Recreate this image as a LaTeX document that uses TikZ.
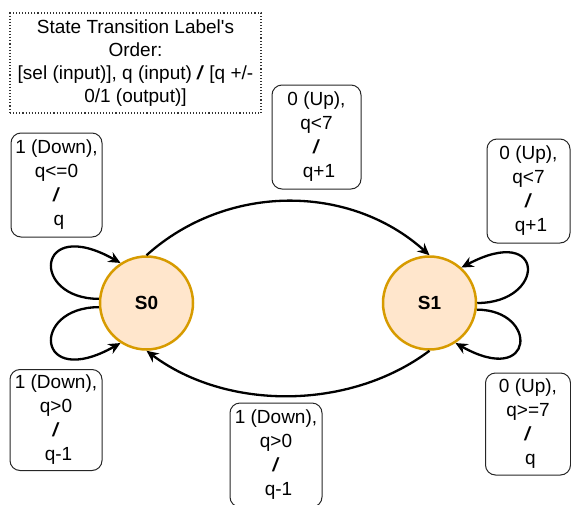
\documentclass[tikz,border=0pt]{standalone}
\usepackage{fontspec}
\setmainfont{Liberation Sans}
\usetikzlibrary{arrows.meta}
\definecolor{statefill}{HTML}{FFE6CC}
\definecolor{stateedge}{HTML}{D79B00}
\newcommand{\bislash}{\textbf{\textit{/}}}
\begin{document}
\begin{tikzpicture}[x=1pt,y=-1pt,
  state/.style={circle,draw=stateedge,fill=statefill,line width=2.5pt,minimum size=93pt,inner sep=0pt,font=\fontsize{19}{23}\selectfont\bfseries},
  lbl/.style={draw=black!85,rounded corners=10pt,line width=1pt,align=center,inner sep=0pt,font=\fontsize{19}{24}\selectfont},
  note/.style={draw=black!80,dotted,line width=1.1pt,align=center,inner sep=0pt,font=\fontsize{19}{23}\selectfont},
  tr/.style={line width=2.3pt,-{Stealth[length=12pt,width=11pt,inset=4pt]}}
]
\useasboundingbox (0,0) rectangle (571,504);

\node[note,minimum width=251pt,minimum height=100pt] (note) at (135.5,63)
  {State Transition Label\textquotesingle s\\Order:\\{}[sel (input)], q (input) \bislash{} [q +/-\\0/1 (output)]};

\node[state] (S0) at (146.5,303) {S0};
\node[state] (S1) at (429.5,303) {S1};

\node[lbl,minimum width=91pt,minimum height=104pt] (l1) at (56.5,185) {1 (Down),\\q<=0\\\bislash\\\hspace*{5pt}q};
\node[lbl,minimum width=89pt,minimum height=104pt] (l2) at (316.5,137) {0 (Up),\\q<7\\\bislash\\\hspace*{5pt}q+1};
\node[lbl,minimum width=83pt,minimum height=104pt] (l3) at (528.5,191) {0 (Up),\\q<7\\\bislash\\\hspace*{5pt}q+1};
\node[lbl,minimum width=92pt,minimum height=101pt] (l4) at (56,420) {1 (Down),\\q>0\\\bislash\\\hspace*{5pt}q-1};
\node[lbl,minimum width=92pt,minimum height=104pt] (l5) at (276,455) {1 (Down),\\q>0\\\bislash\\\hspace*{5pt}q-1};
\node[lbl,minimum width=85pt,minimum height=102pt] (l6) at (528,424) {0 (Up),\\q>=7\\\bislash\\\hspace*{5pt}q};

% transitions between states
\draw[tr] (S0.90) .. controls +(80,-72) and +(-80,-72) .. (S1.90);
\draw[tr] (S1.270) .. controls +(-80,60) and +(80,60) .. (S0.270);

% self loops S0
\draw[tr] (S0.175) .. controls +(-69,0) and +(-85,-48) .. (S0.123);
\draw[tr] (S0.185) .. controls +(-69,0) and +(-85,48) .. (S0.237);

% self loops S1
\draw[tr] (S1.0) .. controls +(69,0) and +(85,-45) .. (S1.48);
\draw[tr] (S1.352) .. controls +(62,0) and +(80,45) .. (S1.303);
\end{tikzpicture}
\end{document}
